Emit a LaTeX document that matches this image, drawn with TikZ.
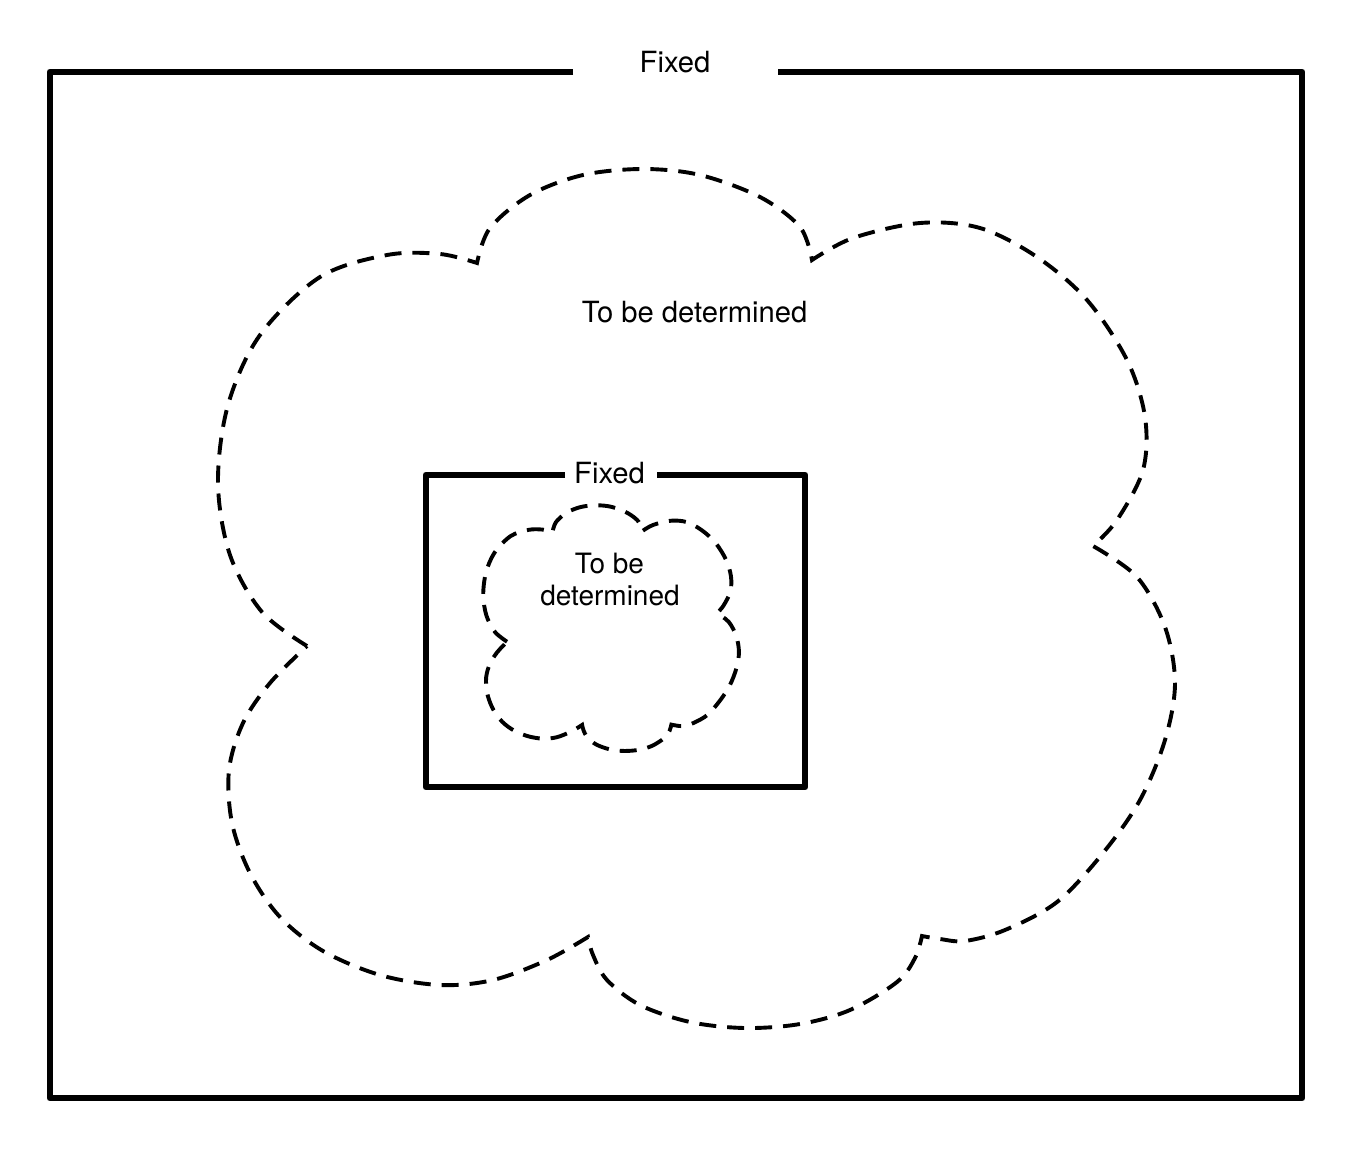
\documentclass[tikz,border=0pt]{standalone}
\usepackage{fontspec}
\setmainfont{TeX Gyre Heros}
\begin{document}
\begin{tikzpicture}[x=0.5pt,y=-0.5pt,
  frame/.style={line width=3.4pt,line join=round,line cap=butt},
  cloudline/.style={line width=1.95pt,dash pattern=on 8.5pt off 5.5pt,line join=miter},
  lbl/.style={inner sep=0pt,anchor=base,font=\fontsize{14.6pt}{16pt}\selectfont},
  slbl/.style={inner sep=0pt,anchor=base,font=\fontsize{14pt}{16pt}\selectfont}]
\useasboundingbox (0,0) rectangle (1366,1168);
% outer fixed frame
\draw[frame] (573,72) -- (50,72) -- (50,1098) -- (1302,1098) -- (1302,72) -- (778,72);
\node[lbl] (fixedOuter) at (675,72) {Fixed};
% inner fixed frame
\draw[frame] (565,475) -- (426,475) -- (426,787) -- (805,787) -- (805,475) -- (657,475);
\node[lbl] (fixedInner) at (609.5,483) {Fixed};
% clouds (big one, and the small one as a scaled copy)
\foreach \sx/\sy/\tx/\ty in {1/1/0/0, 0.2672/0.2860/425.0/456.95}{
\begin{scope}[shift={(\tx,\ty)},xscale=\sx,yscale=\sy]
\draw[cloudline]
  plot[smooth,tension=0.55] coordinates {(307,646) (262,612) (230,555) (218,483) (228,405) (260,335) (320,277) (387,255) (440,254) (477,263)}
  -- plot[smooth,tension=0.55] coordinates {(477,263) (490,228) (530,195) (583,175) (643,169) (700,175) (760,197) (800,227) (812,260)}
  -- plot[smooth,tension=0.55] coordinates {(812,260) (853,238) (920,223) (980,228) (1037,257) (1087,300) (1127,360) (1145,417) (1143,470) (1117,520) (1093,546)}
  -- plot[smooth,tension=0.55] coordinates {(1093,546) (1137,577) (1165,627) (1175,683) (1165,740) (1140,800) (1103,853) (1057,902) (1005,930) (965,941) (940,939) (922,936)}
  -- plot[smooth,tension=0.55] coordinates {(922,936) (915,958) (897,982) (850,1010) (800,1024) (745,1028) (690,1022) (640,1005) (607,980) (593,955) (588,937)}
  -- plot[smooth,tension=0.55] coordinates {(588,937) (547,960) (493,980) (440,985) (380,975) (323,951) (280,917) (250,873) (232,823) (229,770) (243,723) (270,683) (307,646)}
  -- cycle;
\end{scope}
}
\node[lbl] (tbdOuter) at (694.5,322) {To be determined};
\node[slbl] (tbdInner1) at (609.5,573) {To be};
\node[slbl] (tbdInner2) at (610,605) {determined};
\end{tikzpicture}
\end{document}
